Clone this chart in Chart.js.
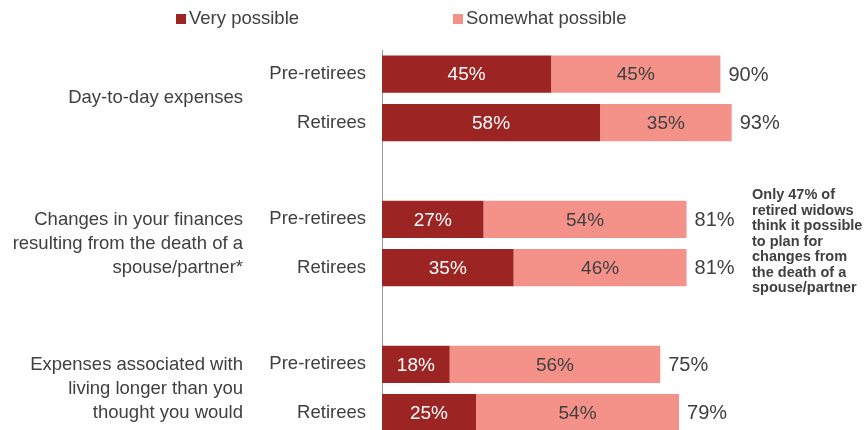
<!DOCTYPE html>
<html>
<head>
<meta charset="utf-8">
<script src="https://cdn.jsdelivr.net/npm/chart.js@4"></script>
<style>
  html, body { margin: 0; padding: 0; background: #fff; overflow: hidden; }
  canvas { display: block; }
</style>
</head>
<body>
<canvas id="planChart" width="868" height="464"></canvas>
<script>
// rows: each group has pre-retirees and retirees, blank slot between groups
const rowLabels = ["Pre-retirees", "Retirees", "", "Pre-retirees", "Retirees", "", "Pre-retirees", "Retirees"];
const veryPossible = [45, 58, null, 27, 35, null, 18, 25];
const somewhatPossible = [45, 35, null, 54, 46, null, 56, 54];
const totals = [90, 93, null, 81, 81, null, 75, 79];
const groupLabels = [
  ["Day-to-day expenses"],
  ["Changes in your finances", "resulting from the death of a", "spouse/partner*"],
  ["Expenses associated with", "living longer than you", "thought you would"]
];
const groupRows = [[0, 1], [3, 4], [6, 7]];
const noteLines = ["Only 47% of", "retired widows", "think it possible", "to plan for", "changes from", "the death of a", "spouse/partner"];

const DARK = "#9c2422";
const LIGHT = "#f4928a";
const TEXT = "#404040";
const FONT = "'Liberation Sans', Arial, sans-serif";

// legend, value labels, group labels and side note
const extras = {
  id: "extras",
  afterDraw(chart) {
    const ctx = chart.ctx;
    const y = chart.scales.y;
    const meta0 = chart.getDatasetMeta(0);
    const meta1 = chart.getDatasetMeta(1);
    ctx.save();

    // legend
    ctx.font = "18.5px " + FONT;
    ctx.textBaseline = "middle";
    ctx.textAlign = "left";
    const legend = [["Very possible", DARK, 176], ["Somewhat possible", LIGHT, 453]];
    legend.forEach(([txt, col, lx]) => {
      ctx.fillStyle = col;
      ctx.fillRect(lx, 14, 10, 10);
      ctx.fillStyle = TEXT;
      ctx.fillText(txt, lx + 13, 19);
    });

    // values inside and after the bars
    veryPossible.forEach((v, i) => {
      if (v == null) return;
      const b0 = meta0.data[i];
      const b1 = meta1.data[i];
      ctx.font = "19px " + FONT;
      ctx.textAlign = "center";
      ctx.fillStyle = "#ffffff";
      ctx.fillText(v + "%", (b0.base + b0.x) / 2, b0.y + 1);
      ctx.fillStyle = TEXT;
      ctx.fillText(somewhatPossible[i] + "%", (b1.base + b1.x) / 2, b1.y + 1);
      ctx.textAlign = "left";
      ctx.font = "20px " + FONT;
      ctx.fillText(totals[i] + "%", b1.x + 8, b1.y + 1);
    });

    // group labels to the left of the row labels
    ctx.font = "18.5px " + FONT;
    ctx.textAlign = "right";
    ctx.fillStyle = TEXT;
    const lh = 24;
    groupLabels.forEach((lines, g) => {
      const [a, b] = groupRows[g];
      const mid = (y.getPixelForValue(a) + y.getPixelForValue(b)) / 2;
      const top = mid - (lines.length - 1) * lh / 2;
      lines.forEach((ln, k) => ctx.fillText(ln, 243, top + k * lh));
    });

    // side note
    ctx.font = "bold 14.5px " + FONT;
    ctx.textAlign = "left";
    noteLines.forEach((ln, k) => ctx.fillText(ln, 752, 195 + k * 15.5));

    ctx.restore();
  }
};

const chart = new Chart(document.getElementById("planChart"), {
  type: "bar",
  data: {
    labels: rowLabels,
    datasets: [
      { label: "Very possible", data: veryPossible, backgroundColor: DARK },
      { label: "Somewhat possible", data: somewhatPossible, backgroundColor: LIGHT }
    ]
  },
  options: {
    indexAxis: "y",
    responsive: false,
    animation: false,
    categoryPercentage: 1,
    barPercentage: 0.77,
    layout: { padding: { top: 50, right: 110, bottom: 0, left: 0 } },
    plugins: { legend: { display: false }, tooltip: { enabled: false } },
    scales: {
      x: { stacked: true, min: 0, max: 100, display: false },
      y: {
        stacked: true,
        grid: { display: false, drawTicks: false },
        border: { display: true, color: "#9a9a9a", width: 1 },
        ticks: { color: TEXT, font: { size: 18.5, family: FONT }, padding: 16 },
        afterFit(scale) { scale.width = 382; }
      }
    }
  },
  plugins: [extras]
});
</script>
</body>
</html>
